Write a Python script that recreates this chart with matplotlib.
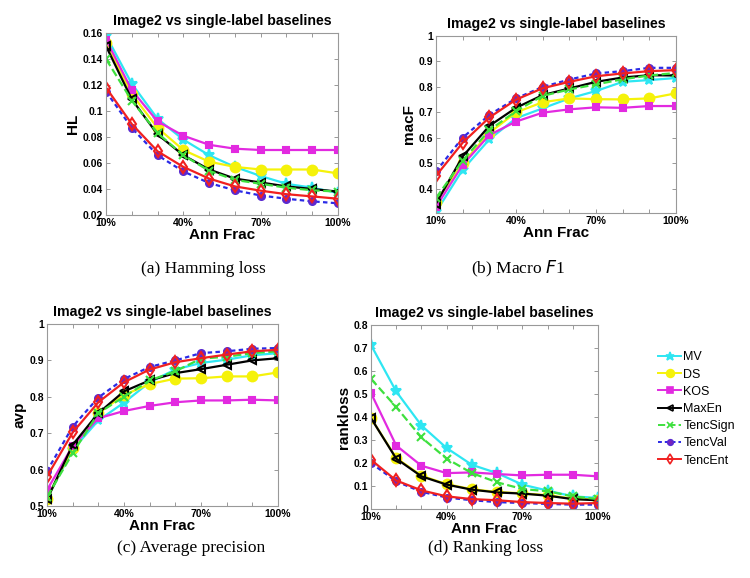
import numpy as np
import matplotlib.pyplot as plt
from matplotlib.lines import Line2D

plt.rcParams['font.family'] = ['Liberation Sans', 'DejaVu Sans']

# Annotated fraction (x axis)
ann_frac = [0.1, 0.2, 0.3, 0.4, 0.5, 0.6, 0.7, 0.8, 0.9, 1.0]
xtick_labels = ['10%', '', '', '40%', '', '', '70%', '', '', '100%']

methods = ['MV', 'DS', 'KOS', 'MaxEn', 'TencSign', 'TencVal', 'TencEnt']

# (a) Hamming loss
hl_mv = [0.158, 0.121, 0.094, 0.078, 0.066, 0.057, 0.050, 0.044, 0.041, 0.037]
hl_ds = [0.152, 0.113, 0.087, 0.070, 0.061, 0.057, 0.055, 0.055, 0.055, 0.052]
hl_kos = [0.155, 0.116, 0.092, 0.081, 0.074, 0.071, 0.070, 0.070, 0.070, 0.070]
hl_maxen = [0.150, 0.109, 0.082, 0.066, 0.055, 0.048, 0.045, 0.042, 0.040, 0.038]
hl_sign = [0.140, 0.108, 0.083, 0.066, 0.054, 0.047, 0.044, 0.041, 0.039, 0.038]
hl_val = [0.115, 0.087, 0.066, 0.0535, 0.0446, 0.039, 0.035, 0.0325, 0.0305, 0.029]
hl_ent = [0.118, 0.090, 0.069, 0.057, 0.048, 0.042, 0.0387, 0.036, 0.0343, 0.0325]

# (b) Macro F1
mf_mv = [0.309, 0.475, 0.594, 0.677, 0.716, 0.755, 0.784, 0.820, 0.827, 0.835]
mf_ds = [0.350, 0.500, 0.620, 0.700, 0.740, 0.755, 0.752, 0.751, 0.755, 0.775]
mf_kos = [0.329, 0.494, 0.611, 0.664, 0.699, 0.712, 0.720, 0.718, 0.725, 0.725]
mf_maxen = [0.342, 0.527, 0.647, 0.718, 0.768, 0.794, 0.820, 0.837, 0.846, 0.845]
mf_sign = [0.364, 0.511, 0.630, 0.705, 0.765, 0.790, 0.810, 0.830, 0.845, 0.855]
mf_val = [0.468, 0.601, 0.690, 0.755, 0.800, 0.829, 0.853, 0.862, 0.875, 0.875]
mf_ent = [0.451, 0.581, 0.680, 0.750, 0.795, 0.820, 0.842, 0.853, 0.862, 0.866]

# (c) Average precision
ap_mv = [0.520, 0.655, 0.735, 0.784, 0.840, 0.875, 0.893, 0.902, 0.914, 0.920]
ap_ds = [0.520, 0.660, 0.755, 0.805, 0.835, 0.850, 0.851, 0.856, 0.856, 0.867]
ap_kos = [0.544, 0.665, 0.741, 0.761, 0.775, 0.785, 0.790, 0.790, 0.792, 0.790]
ap_maxen = [0.518, 0.668, 0.755, 0.815, 0.845, 0.865, 0.876, 0.888, 0.900, 0.906]
ap_sign = [0.525, 0.645, 0.755, 0.800, 0.845, 0.870, 0.905, 0.910, 0.920, 0.925]
ap_val = [0.596, 0.718, 0.798, 0.849, 0.882, 0.900, 0.920, 0.925, 0.932, 0.934]
ap_ent = [0.581, 0.702, 0.785, 0.840, 0.875, 0.895, 0.906, 0.916, 0.925, 0.929]

# (d) Ranking loss
rl_mv = [0.713, 0.511, 0.363, 0.265, 0.192, 0.156, 0.106, 0.080, 0.055, 0.048]
rl_ds = [0.395, 0.222, 0.145, 0.108, 0.086, 0.074, 0.068, 0.060, 0.045, 0.040]
rl_kos = [0.504, 0.276, 0.188, 0.156, 0.159, 0.152, 0.146, 0.149, 0.149, 0.142]
rl_maxen = [0.395, 0.219, 0.142, 0.106, 0.084, 0.072, 0.067, 0.058, 0.043, 0.038]
rl_sign = [0.566, 0.443, 0.311, 0.219, 0.156, 0.116, 0.087, 0.077, 0.055, 0.043]
rl_val = [0.200, 0.120, 0.075, 0.050, 0.038, 0.030, 0.026, 0.022, 0.019, 0.019]
rl_ent = [0.214, 0.124, 0.081, 0.055, 0.043, 0.038, 0.030, 0.026, 0.023, 0.026]

STYLES = {
    'MV': dict(color='#2ee6f2', ls='-', marker='*', ms=8),
    'DS': dict(color='#f5f20a', ls='-', marker='o', ms=7),
    'KOS': dict(color='#e22ae0', ls='-', marker='s', ms=5),
    'MaxEn': dict(color='black', ls='-', marker='<', ms=6, mfc='none'),
    'TencSign': dict(color='#3ee03e', ls='--', marker='x', ms=6),
    'TencVal': dict(color='#2a2ae6', ls=(0, (2, 1.5)), marker='o', ms=5, mfc='#7a22b8', mec='#5a2ad0'),
    'TencEnt': dict(color='#f02020', ls='-', marker='d', ms=6, mfc='none'),
}

panels = [
    dict(pos=[106, 33, 338, 215], ylabel='HL', ylim=(0.02, 0.16),
         yticks=[0.02, 0.04, 0.06, 0.08, 0.1, 0.12, 0.14, 0.16],
         ylabels=['0.02', '0.04', '0.06', '0.08', '0.1', '0.12', '0.14', '0.16'],
         data=[hl_mv, hl_ds, hl_kos, hl_maxen, hl_sign, hl_val, hl_ent]),
    dict(pos=[436, 36, 676, 213], ylabel='macF', ylim=(0.305, 1.0),
         yticks=[0.4, 0.5, 0.6, 0.7, 0.8, 0.9, 1.0],
         ylabels=['0.4', '0.5', '0.6', '0.7', '0.8', '0.9', '1'],
         data=[mf_mv, mf_ds, mf_kos, mf_maxen, mf_sign, mf_val, mf_ent]),
    dict(pos=[47, 324, 278, 506], ylabel='avp', ylim=(0.5, 1.0),
         yticks=[0.5, 0.6, 0.7, 0.8, 0.9, 1.0],
         ylabels=['0.5', '0.6', '0.7', '0.8', '0.9', '1'],
         data=[ap_mv, ap_ds, ap_kos, ap_maxen, ap_sign, ap_val, ap_ent]),
    dict(pos=[371, 325, 598, 509], ylabel='rankloss', ylim=(0, 0.8),
         yticks=[0, 0.1, 0.2, 0.3, 0.4, 0.5, 0.6, 0.7, 0.8],
         ylabels=['0', '0.1', '0.2', '0.3', '0.4', '0.5', '0.6', '0.7', '0.8'],
         data=[rl_mv, rl_ds, rl_kos, rl_maxen, rl_sign, rl_val, rl_ent]),
]

W, H = 750, 578
fig = plt.figure(figsize=(W / 100, H / 100), dpi=100)

for p in panels:
    x0, y0, x1, y1 = p['pos']
    ax = fig.add_axes([x0 / W, 1 - y1 / H, (x1 - x0) / W, (y1 - y0) / H])
    for name, vals in zip(methods, p['data']):
        st = dict(STYLES[name])
        ax.plot(ann_frac, vals, color=st.pop('color'), linestyle=st.pop('ls'),
                lw=1.6, mew=1.5, **st)
    ax.set_xlim(0.1, 1.0)
    ax.set_ylim(*p['ylim'])
    ax.set_xticks(ann_frac)
    ax.set_xticklabels(xtick_labels)
    ax.set_yticks(p['yticks'])
    ax.set_yticklabels(p['ylabels'])
    ax.tick_params(direction='in', top=True, right=True, length=3, width=0.6,
                   labelsize=7.5, pad=2, color='#888888')
    for lab in ax.get_xticklabels() + ax.get_yticklabels():
        lab.set_fontweight('bold')
    for s in ax.spines.values():
        s.set_color('#999999')
        s.set_linewidth(0.8)
    ax.set_xlabel('Ann Frac', fontsize=11, fontweight='bold', labelpad=0)
    ax.set_ylabel(p['ylabel'], fontsize=11, fontweight='bold', labelpad=2)
    ax.set_title('Image2 vs single-label baselines', fontsize=10.2,
                 fontweight='bold', pad=6)

# Legend
handles = []
for name in methods:
    st = dict(STYLES[name])
    handles.append(Line2D([], [], color=st.pop('color'), linestyle=st.pop('ls'),
                          lw=1.4, mew=1.2, **{k: (v * 0.8 if k == 'ms' else v) for k, v in st.items()}))
fig.legend(handles, methods, loc='center left', bbox_to_anchor=(652 / W, 1 - 409 / H),
           frameon=False, fontsize=9, handlelength=1.8, handletextpad=0.2,
           labelspacing=0.42, borderpad=0)

# Captions
cap_kw = dict(family='Liberation Serif', fontsize=12.5, ha='center', va='center')
fig.text(203 / W, 1 - 269 / H, '(a) Hamming loss', **cap_kw)
fig.text(518 / W, 1 - 269 / H, '(b) Macro $\\mathit{F}$1', **cap_kw)
fig.text(191 / W, 1 - 548 / H, '(c) Average precision', **cap_kw)
fig.text(486 / W, 1 - 548 / H, '(d) Ranking loss', **cap_kw)

fig.savefig('out.png', dpi=100)
